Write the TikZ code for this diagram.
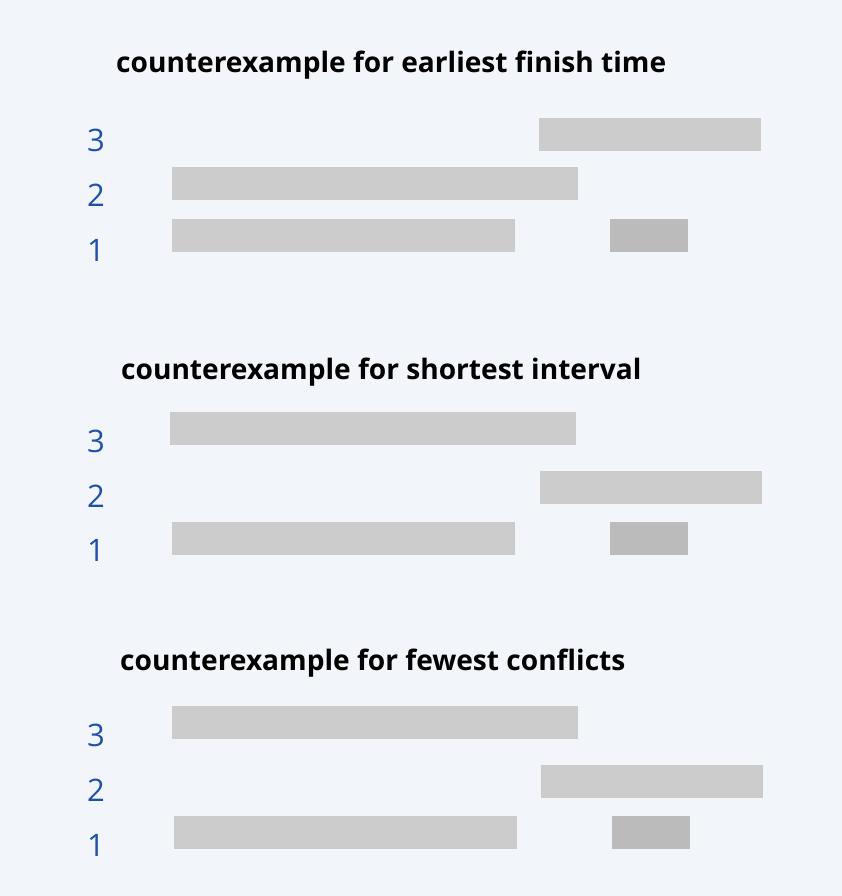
\documentclass[tikz,border=0pt]{standalone}
\usepackage{fontspec}
\setmainfont{Open Sans}
\definecolor{bg}{HTML}{F2F5F9}
\definecolor{barc}{HTML}{CCCCCC}
\definecolor{bard}{HTML}{BBBBBB}
\definecolor{numc}{HTML}{2150A8}
\begin{document}
\begin{tikzpicture}[x=1pt,y=-1pt,
  bar/.style={fill=barc,draw=none},
  dbar/.style={fill=bard,draw=none},
  title/.style={font=\fontsize{28.1}{32}\selectfont\bfseries,text=black,anchor=west,inner sep=0pt},
  num/.style={font=\fontsize{31}{36}\selectfont,text=numc,inner sep=0pt}]
\fill[bg] (0,0) rectangle (842,896);
\useasboundingbox (0,0) rectangle (842,896);
% section 1
\node[title] (t1) at (116,65) {counterexample for earliest finish time};
\node[num] (a3) at (96,140) {3};
\node[num] (a2) at (96,195) {2};
\node[num] (a1) at (96,250) {1};
\fill[bar] (539,118) rectangle (761,151);
\fill[bar] (172,167) rectangle (578,200);
\fill[bar] (172,219) rectangle (515,252);
\fill[dbar] (610,219) rectangle (688,252);
% section 2
\node[title] (t2) at (121,372) {counterexample for shortest interval};
\node[num] (b3) at (96,441) {3};
\node[num] (b2) at (96,496) {2};
\node[num] (b1) at (96,550) {1};
\fill[bar] (170,412) rectangle (576,445);
\fill[bar] (540,471) rectangle (762,504);
\fill[bar] (172,522) rectangle (515,555);
\fill[dbar] (610,522) rectangle (688,555);
% section 3
\node[title] (t3) at (120,663) {counterexample for fewest conflicts};
\node[num] (c3) at (96,735) {3};
\node[num] (c2) at (96,790) {2};
\node[num] (c1) at (96,845) {1};
\fill[bar] (172,706) rectangle (578,739);
\fill[bar] (541,765) rectangle (763,798);
\fill[bar] (174,816) rectangle (517,849);
\fill[dbar] (612,816) rectangle (690,849);
\end{tikzpicture}
\end{document}
